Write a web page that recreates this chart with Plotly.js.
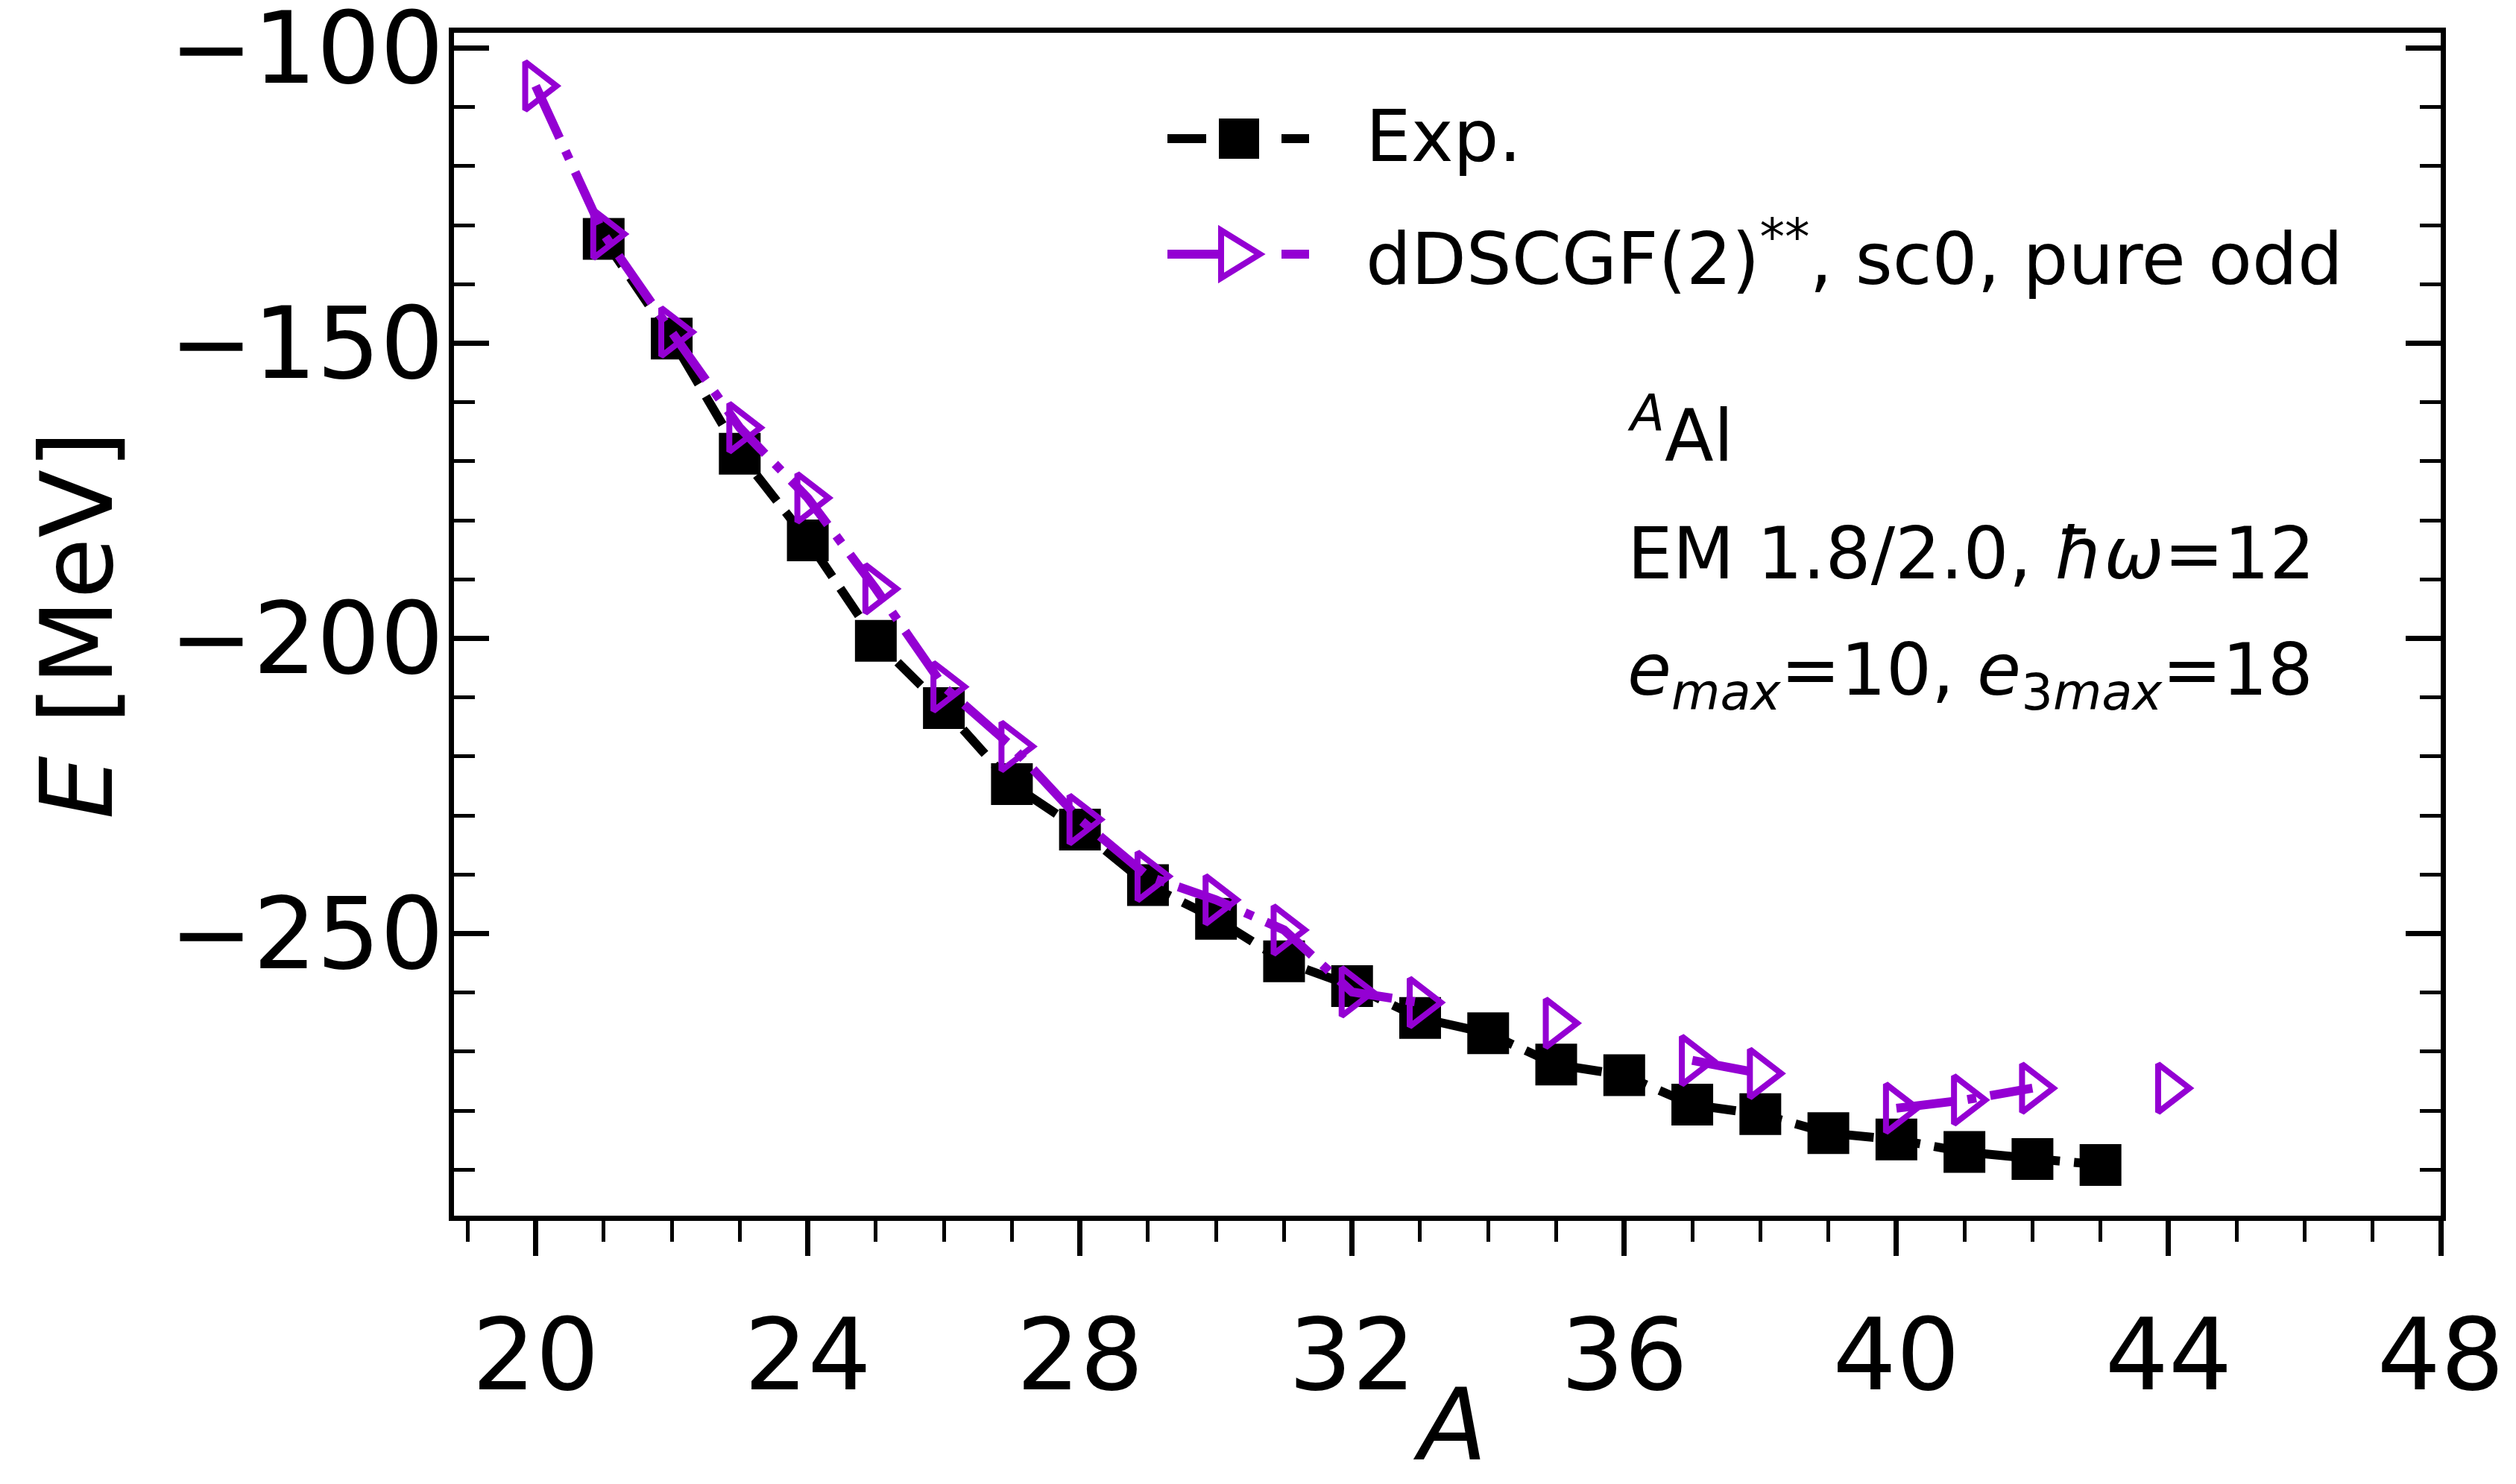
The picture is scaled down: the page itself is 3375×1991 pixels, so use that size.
<!DOCTYPE html>
<html>
<head>
<meta charset="utf-8">
<script src="https://cdn.plot.ly/plotly-3.0.1.min.js"></script>
<style>
html, body { margin: 0; padding: 0; background: #ffffff; }
#chart { width: 3375px; height: 1991px; }
</style>
</head>
<body>
<div id="chart"></div>
<script>
// ---- data ----
const expA = [21, 22, 23, 24, 25, 26, 27, 28, 29, 30, 31, 32, 33, 34, 35, 36, 37, 38, 39, 40, 41, 42, 43];
const expE = [-132.3, -149.2, -168.7, -183.4, -200.4, -211.8, -224.7, -232.4, -241.8, -247.5, -254.7,
              -258.9, -264.3, -266.9, -272.2, -274.0, -279.0, -280.6, -283.8, -284.9, -287.0, -288.2, -289.2];

const calcA = [20, 21, 22, 23, 24, 25, 26, 27, 28, 29, 30, 31, 32, 33, 34, 35, 36, 37, 38, 39, 40, 41, 42, 43, 44];
const calcE = [-106.4, -131.5, -148.1, -164.3, -176.2, -191.6, -208.2, -218.3, -230.7, -240.3, -244.3, -249.4,
               -259.9, -261.7, null, -265.2, null, -271.5, -273.7, null, -279.6, -278.2, -276.2, null, -276.2];

const seriesNames = ["Exp.", "dDSCGF(2)<sup>**</sup>, sc0, pure odd"];
const infoLines = ["<sup><i>A</i></sup>Al", "EM 1.8/2.0, <i>ħω</i>=12",
                   "<i>e</i><sub><i>max</i></sub>=10, <i>e</i><sub>3<i>max</i></sub>=18"];
const xTitle = "<i>A</i>";
const yTitle = "<i>E</i> [MeV]";
const xTicks = [20, 24, 28, 32, 36, 40, 44, 48];
const yTicks = [-100, -150, -200, -250];

// ---- styling ----
const PURPLE = "#9400D3";
const FONT = "DejaVu Sans";
const W = 3375, H = 1991;
const L = 609, R = 3274, T = 44, B = 1631;
const fx = x => (x - L) / (R - L);
const fy = y => (B - y) / (B - T);

const traces = [
  {
    x: expA, y: expE, name: seriesNames[0], type: "scatter", mode: "lines+markers",
    line: { color: "#000000", width: 12, dash: "44px,19px" },
    marker: { symbol: "square", size: 56, color: "#000000", line: { width: 0 } },
    showlegend: false, cliponaxis: false
  },
  {
    x: calcA, y: calcE, name: seriesNames[1], type: "scatter", mode: "lines+markers",
    connectgaps: false,
    line: { color: PURPLE, width: 12, dash: "77px,19px,12px,19px" },
    marker: { symbol: "triangle-right-open", size: 56, color: PURPLE, line: { width: 8, color: PURPLE } },
    showlegend: false, cliponaxis: false
  }
];

// hand-drawn legend (Plotly caps legend symbol sizes)
const shapes = [
  // Exp. handle
  { type: "line", xref: "paper", yref: "paper", x0: fx(1566), x1: fx(1618), y0: fy(186), y1: fy(186), line: { color: "#000", width: 12 } },
  { type: "line", xref: "paper", yref: "paper", x0: fx(1719), x1: fx(1756), y0: fy(186), y1: fy(186), line: { color: "#000", width: 12 } },
  { type: "rect", xref: "paper", yref: "paper", x0: fx(1635), x1: fx(1689), y0: fy(213), y1: fy(159), fillcolor: "#000", line: { width: 0 } },
  // dDSCGF handle
  { type: "line", xref: "paper", yref: "paper", x0: fx(1566), x1: fx(1640), y0: fy(341), y1: fy(341), line: { color: PURPLE, width: 12 } },
  { type: "line", xref: "paper", yref: "paper", x0: fx(1719), x1: fx(1756), y0: fy(341), y1: fy(341), line: { color: PURPLE, width: 12 } },
  { type: "path", xref: "paper", yref: "paper",
    path: "M " + fx(1638) + "," + fy(309) + " L " + fx(1638) + "," + fy(373) + " L " + fx(1690) + "," + fy(341) + " Z",
    line: { color: PURPLE, width: 8 }, fillcolor: "rgba(0,0,0,0)" }
];

const annFont = { family: FONT, size: 96, color: "#000" };
const titleFont = { family: FONT, size: 134, color: "#000" };
const annotations = [
  { xref: "paper", yref: "paper", x: fx(1830), y: fy(183), xanchor: "left", yanchor: "middle", text: seriesNames[0], showarrow: false, font: annFont },
  { xref: "paper", yref: "paper", x: fx(1830), y: fy(341), xanchor: "left", yanchor: "middle", text: seriesNames[1], showarrow: false, font: annFont },
  { xref: "paper", yref: "paper", x: fx(2181), y: fy(578), xanchor: "left", yanchor: "middle", text: infoLines[0], showarrow: false, font: annFont },
  { xref: "paper", yref: "paper", x: fx(2181), y: fy(743), xanchor: "left", yanchor: "middle", text: infoLines[1], showarrow: false, font: annFont },
  { xref: "paper", yref: "paper", x: fx(2181), y: fy(905), xanchor: "left", yanchor: "middle", text: infoLines[2], showarrow: false, font: annFont },
  // axis titles
  { xref: "paper", yref: "paper", x: fx(1945), y: fy(1912), xanchor: "center", yanchor: "middle", text: xTitle, showarrow: false, font: titleFont },
  { xref: "paper", yref: "paper", x: fx(104), y: fy(838), xanchor: "center", yanchor: "middle", text: yTitle, textangle: -90, showarrow: false, font: titleFont }
];

const layout = {
  width: W, height: H,
  paper_bgcolor: "#ffffff", plot_bgcolor: "#ffffff",
  font: { family: FONT, size: 134, color: "#000" },
  margin: { l: L, r: W - R, t: T, b: H - B, pad: 0 },
  showlegend: false,
  xaxis: {
    range: [18.8, 48],
    tickmode: "array", tickvals: xTicks, ticktext: xTicks.map(String),
    ticks: "outside", ticklen: 47, tickwidth: 7, tickcolor: "#000",
    minor: { dtick: 1, tick0: 19, ticks: "outside", ticklen: 28, tickwidth: 5, tickcolor: "#000", showgrid: false },
    showline: true, linewidth: 7, linecolor: "#000", mirror: true,
    showgrid: false, zeroline: false,
    ticklabelstandoff: 18,
    ticklabeloverflow: "allow",
    tickfont: { family: FONT, size: 134 }
  },
  yaxis: {
    range: [-297.8, -97.4],
    tickmode: "array", tickvals: yTicks, ticktext: yTicks.map(v => "\u2212" + Math.abs(v)),
    ticks: "inside", ticklen: 47, tickwidth: 7, tickcolor: "#000",
    minor: { dtick: 10, tick0: -100, ticks: "inside", ticklen: 28, tickwidth: 5, tickcolor: "#000", showgrid: false },
    showline: true, linewidth: 7, linecolor: "#000", mirror: "ticks",
    showgrid: false, zeroline: false,
    ticklabelstandoff: -20,
    ticklabeloverflow: "allow",
    tickfont: { family: FONT, size: 134 }
  },
  shapes: shapes,
  annotations: annotations
};

Plotly.newPlot("chart", traces, layout, { staticPlot: true, displayModeBar: false });
</script>
</body>
</html>
